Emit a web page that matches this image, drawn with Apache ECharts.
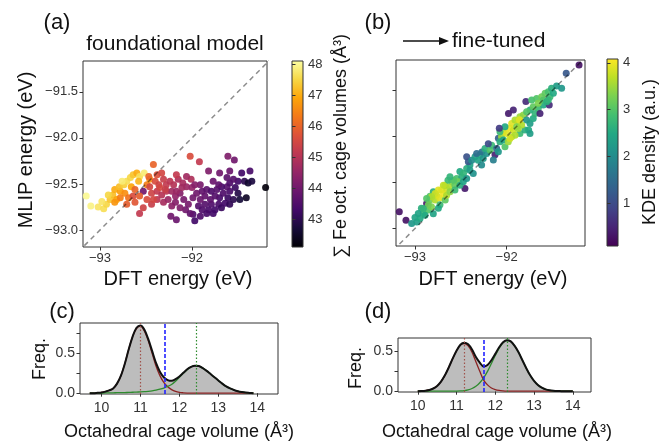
<!DOCTYPE html>
<html>
<head>
<meta charset="utf-8">
<script src="https://cdn.jsdelivr.net/npm/echarts@6/dist/echarts.min.js"></script>
<style>
  html, body { margin: 0; background: #fff; }
  #chart { width: 659px; height: 444px; }
</style>
</head>
<body>
<div id="chart"></div>
<script>
// (a) foundational model: DFT energy, MLIP energy (eV), summed Fe oct. cage volume
const aDft = [-93.15,-93.10,-93.02,-92.96,-92.93,-92.98,-92.89,-92.86,-92.91,-92.82,
  -92.84,-92.78,-92.79,-92.74,-92.71,-92.76,-92.67,-92.64,-92.60,-92.57,
  -92.52,-92.58,-92.66,-92.73,-92.78,-92.84,-92.69,-92.71,-92.64,-92.62,
  -92.53,-92.42,-92.49,-92.46,-92.46,-92.40,-92.36,-92.31,-92.28,-92.24,
  -92.20,-92.15,-92.10,-92.06,-92.01,-92.00,-92.44,-92.38,-92.33,-92.28,
  -92.22,-92.18,-92.13,-92.09,-92.49,-92.44,-92.38,-92.53,-92.57,-92.31,
  -92.26,-92.22,-92.18,-92.23,-92.17,-92.38,-92.33,-92.17,-92.06,-92.02,
  -91.92,-91.99,-91.97,-91.93,-91.89,-91.86,-91.82,-91.79,-91.75,-91.71,
  -91.68,-91.64,-91.61,-91.59,-91.55,-91.59,-91.62,-91.66,-91.70,-91.75,
  -91.80,-91.86,-91.91,-91.95,-91.89,-91.84,-91.79,-91.73,-91.68,-91.59,
  -91.53,-91.50,-91.50,-91.55,-91.62,-91.82,-91.70,-91.59,-91.61,-91.54,
  -91.46,-91.37,-91.43,-91.39,-91.48,-91.41,-91.35,-91.20,-91.71,-91.77,
  -91.91,-91.97,-91.99,-92.04,-92.07,-92.02,-92.13,-91.84,-91.77,-91.91,
  -92.35,-92.29,-92.47,-92.42,-92.57,-92.62,-92.17,-92.11]
const aMlip = [-92.63,-92.74,-92.75,-92.77,-92.72,-92.69,-92.67,-92.62,-92.62,-92.67,
  -92.56,-92.58,-92.53,-92.51,-92.47,-92.47,-92.43,-92.40,-92.38,-92.42,
  -92.38,-92.47,-92.53,-92.60,-92.65,-92.70,-92.65,-92.72,-92.63,-92.56,
  -92.58,-92.29,-92.51,-92.45,-92.53,-92.47,-92.51,-92.45,-92.51,-92.47,
  -92.51,-92.45,-92.49,-92.53,-92.45,-92.54,-92.60,-92.58,-92.62,-92.58,
  -92.58,-92.63,-92.60,-92.67,-92.67,-92.72,-92.67,-92.76,-92.82,-92.70,
  -92.67,-92.74,-92.70,-92.85,-92.89,-92.40,-92.38,-92.40,-92.42,-92.20,
  -92.26,-92.83,-92.90,-92.74,-92.78,-92.72,-92.78,-92.72,-92.78,-92.72,
  -92.76,-92.71,-92.65,-92.72,-92.67,-92.58,-92.53,-92.60,-92.65,-92.63,
  -92.67,-92.63,-92.67,-92.60,-92.58,-92.56,-92.58,-92.56,-92.53,-92.49,
  -92.54,-92.60,-92.47,-92.45,-92.43,-92.36,-92.38,-92.36,-92.20,-92.24,
  -92.38,-92.36,-92.47,-92.49,-92.67,-92.65,-92.47,-92.54,-92.51,-92.47,
  -92.51,-92.51,-92.65,-92.72,-92.78,-92.82,-92.76,-92.82,-92.82,-92.85,
  -92.54,-92.56,-92.42,-92.67,-92.63,-92.70,-92.58,-92.54]
const aVol = [48.0,47.9,47.7,47.6,47.5,47.7,47.3,47.2,47.5,46.9,
  47.0,46.8,47.2,47.4,47.6,47.8,47.5,47.3,47.0,47.6,
  47.8,47.1,46.9,46.6,46.4,46.7,46.2,45.9,45.6,46.0,
  44.0,46.0,46.4,46.6,45.5,45.6,45.4,45.3,45.2,45.1,
  45.0,44.9,44.8,44.6,44.9,44.5,45.4,45.2,45.0,45.1,
  44.7,44.5,44.3,44.1,45.6,45.3,45.1,45.4,45.2,44.8,
  44.6,44.4,44.3,44.0,43.9,45.7,45.5,45.2,44.7,45.6,
  45.2,43.5,43.3,43.6,43.5,43.6,43.4,43.5,43.3,43.4,
  43.2,43.3,43.2,43.1,43.0,43.4,43.6,43.5,43.4,43.6,
  43.7,43.8,43.9,44.0,43.8,43.7,43.5,43.6,43.4,43.5,
  43.2,42.9,43.3,43.6,43.7,44.2,44.0,43.9,44.2,44.0,
  43.3,43.4,43.0,42.6,42.7,42.5,42.8,42.2,43.7,43.9,
  44.1,44.3,44.0,44.1,44.0,43.8,44.2,43.4,43.3,43.5,
  45.5,45.3,46.0,45.5,45.9,45.8,44.6,44.7]

// (b) fine-tuned: DFT energy, MLIP energy (eV), KDE density
const bDft = [-93.171,-93.098,-93.036,-92.98,-93.0,-92.945,-92.909,-92.93,-92.873,-92.855,
  -92.82,-92.84,-92.78,-92.764,-92.73,-92.69,-92.71,-92.655,-92.67,-92.62,
  -92.60,-92.64,-92.80,-92.836,-92.727,-92.67,-92.89,-92.80,-92.745,-92.564,
  -92.545,-92.49,-92.455,-92.51,-92.47,-92.436,-92.40,-92.418,-92.436,-92.38,
  -92.345,-92.31,-92.29,-92.255,-92.327,-92.27,-92.218,-92.236,-92.18,-92.164,
  -92.2,-92.127,-92.109,-92.09,-92.055,-92.036,-92.0,-91.964,-91.927,-91.945,
  -91.909,-91.873,-91.855,-91.818,-92.073,-92.036,-91.98,-91.927,-91.782,-91.745,
  -91.71,-91.69,-91.655,-91.745,-91.79,-91.727,-91.673,-91.618,-91.58,-91.545,
  -91.527,-91.6,-91.636,-91.535,-91.51,-91.455,-91.4,-91.35,-91.21,-91.855,
  -91.8,-91.76,-91.745,-91.89,-91.836,-91.782,-91.71,-91.655,-91.6,-91.564,
  -91.545,-91.49,-92.4,-92.364,-92.527,-92.58,-92.618,-92.69,-92.745,-92.78,
  -92.818,-92.873,-92.855,-92.909,-92.964,-92.655,-92.618,-92.564,-92.51,-92.473,
  -92.436,-92.273,-92.145,-92.09,-92.018,-91.982,-91.945,-91.909,-91.964,-91.873,
  -92.073,-92.018,-92.08,-91.86]
const bMlip = [-92.819,-92.909,-92.946,-92.93,-92.88,-92.891,-92.837,-92.78,-92.728,-92.80,
  -92.765,-92.69,-92.69,-92.638,-92.67,-92.62,-92.58,-92.565,-92.53,-92.55,
  -92.49,-92.475,-92.60,-92.65,-92.743,-92.69,-92.855,-92.84,-92.78,-92.529,
  -92.457,-92.44,-92.565,-92.38,-92.40,-92.348,-92.31,-92.275,-92.22,-92.26,
  -92.22,-92.26,-92.20,-92.24,-92.185,-92.17,-92.185,-92.13,-92.15,-92.095,
  -92.08,-92.20,-92.13,-92.02,-92.004,-91.95,-91.967,-91.91,-91.93,-91.86,
  -91.822,-91.84,-91.786,-91.768,-92.058,-92.04,-91.75,-91.714,-91.822,-91.86,
  -91.804,-91.75,-91.696,-91.714,-91.62,-91.605,-91.587,-91.569,-91.532,-91.514,
  -91.569,-91.66,-91.75,-91.66,-91.478,-91.453,-91.478,-91.315,-91.225,-91.967,
  -91.93,-91.93,-91.967,-91.895,-91.877,-91.732,-91.678,-91.641,-91.605,-91.623,
  -91.605,-91.532,-92.366,-92.402,-92.493,-92.475,-92.438,-92.53,-92.583,-92.62,
  -92.656,-92.674,-92.746,-92.783,-92.837,-92.638,-92.60,-92.583,-92.529,-92.493,
  -92.457,-92.31,-92.257,-92.167,-92.112,-92.058,-92.004,-91.986,-92.022,-91.913,
  -91.95,-91.895,-91.91,-91.82]
const bKde = [0.3,0.3,2.2,2.3,2.4,2.5,2.8,2.6,0.4,3.0,
  3.3,3.2,3.6,3.8,3.9,4.0,3.9,3.8,3.5,3.6,
  3.4,2.8,2.6,3.0,2.8,3.1,2.5,2.4,2.5,3.1,
  2.9,2.6,0.4,2.5,2.7,2.6,2.4,1.2,1.1,2.0,
  2.3,2.4,2.5,2.2,1.5,1.6,2.1,2.6,3.0,2.8,
  1.0,0.5,1.5,1.3,3.5,3.8,3.9,4.0,3.8,3.9,
  3.6,3.7,3.5,3.4,2.6,2.4,0.4,0.5,2.2,2.3,
  2.5,2.7,2.8,2.6,0.6,2.9,3.0,3.2,3.1,2.9,
  2.8,2.5,0.5,0.6,2.6,2.3,2.2,1.2,0.3,2.8,
  2.6,2.5,2.3,3.3,3.6,3.0,3.1,3.3,3.0,2.6,
  2.7,2.5,2.3,2.1,3.2,3.0,2.7,3.7,3.9,3.8,
  3.6,3.0,3.2,2.7,2.4,3.6,3.4,2.8,2.6,2.4,
  2.2,2.0,1.8,2.2,3.0,3.5,3.7,3.6,3.8,3.5,
  2.8,2.5,0.8,3.9]

// (c) foundational model: octahedral cage volume distribution
const cVol = [9.7,9.8,9.9,10.0,10.1,10.2,10.3,10.4,10.5,10.6,10.7,10.8,10.9,11.0,11.1,
  11.2,11.3,11.4,11.5,11.6,11.7,11.8,11.9,12.0,12.1,12.2,12.3,12.4,12.5,12.6,
  12.7,12.8,12.9,13.0,13.1,13.2,13.3,13.4,13.5,13.6,13.7,13.8,13.9]
const cTotal = [0,0,0.005,0.01,0.02,0.035,0.06,0.12,0.22,0.37,0.55,0.71,0.82,0.85,0.80,
  0.68,0.53,0.38,0.27,0.20,0.165,0.155,0.175,0.21,0.255,0.30,0.33,0.345,0.34,0.315,
  0.28,0.24,0.20,0.16,0.12,0.085,0.06,0.04,0.025,0.015,0.008,0.004,0]
const cLow = [0,0,0.005,0.01,0.02,0.035,0.06,0.12,0.22,0.37,0.55,0.71,0.81,0.84,0.78,
  0.66,0.50,0.34,0.22,0.135,0.08,0.045,0.022,0.01,0.005,0.002,0,0,0,0,
  0,0,0,0,0,0,0,0,0,0,0,0,0]
const cHigh = [0,0,0.001,0.002,0.003,0.004,0.005,0.006,0.007,0.008,0.01,0.012,0.014,0.016,0.019,
  0.024,0.03,0.038,0.05,0.065,0.085,0.11,0.15,0.20,0.25,0.295,0.33,0.345,0.34,0.315,
  0.28,0.24,0.20,0.16,0.12,0.085,0.06,0.04,0.025,0.015,0.008,0.004,0]
const cMarks = [11.0, 11.63, 12.42]   // low mean, threshold, high mean

// (d) fine-tuned: octahedral cage volume distribution
const dVol = [10.0,10.1,10.2,10.3,10.4,10.5,10.6,10.7,10.8,10.9,11.0,11.1,11.2,11.3,11.4,
  11.5,11.6,11.7,11.8,11.9,12.0,12.1,12.2,12.3,12.4,12.5,12.6,12.7,12.8,12.9,
  13.0,13.1,13.2,13.3,13.4,13.5,13.6,13.7,13.8,13.9,14.0]
const dTotal = [0.001,0.003,0.007,0.016,0.034,0.067,0.121,0.20,0.30,0.41,0.51,0.585,0.61,0.59,0.525,
  0.43,0.36,0.31,0.33,0.39,0.47,0.553,0.616,0.642,0.627,0.57,0.49,0.39,0.29,0.20,
  0.13,0.078,0.044,0.023,0.011,0.005,0.002,0.001,0,0,0]
const dLow = [0.001,0.003,0.007,0.016,0.034,0.067,0.121,0.20,0.30,0.41,0.51,0.58,0.60,0.57,0.49,
  0.37,0.25,0.14,0.08,0.04,0.02,0.01,0.005,0.002,0.001,0,0,0,0,0,
  0,0,0,0,0,0,0,0,0,0,0]
const dHigh = [0,0,0,0,0,0,0,0,0,0.001,0.002,0.004,0.008,0.017,0.034,
  0.062,0.107,0.169,0.25,0.35,0.45,0.54,0.61,0.64,0.626,0.57,0.49,0.39,0.29,0.20,
  0.13,0.078,0.044,0.023,0.011,0.005,0.002,0.001,0,0,0]
const dMarks = [11.19, 11.70, 12.32]

// tick positions
const energyTicksX = [-93, -92]
const energyTicksY = [-93, -92.5, -92, -91.5]
const volTicks = [43, 44, 45, 46, 47, 48]
const kdeTicks = [1, 2, 3, 4]
const cageTicks = [10, 11, 12, 13, 14]
const freqTicks = [0, 0.25, 0.5, 0.75]
const freqLabels = [0, 0.5]

const inferno = ['#000004','#160b39','#420a68','#6a176e','#932667','#bc3754','#dd513a','#f37819','#fca50a','#f6d746','#fcffa4']
const viridis = ['#440154','#482475','#414487','#355f8d','#2a788e','#21918c','#22a884','#44bf70','#7ad151','#bddf26','#fde725']

const FONT = 'Liberation Sans, Arial, sans-serif'
const aRange = { x: [-93.185, -91.185], y: [-93.185, -91.165] }
const bRange = { x: [-93.207, -91.145], y: [-93.19, -91.17] }
const volRange = [42.1, 48.1]
const kdeRange = [0.1, 4.08]

const minus = (d) => (v) => (v < 0 ? '\u2212' : '') + Math.abs(v).toFixed(d)

function gradient(colors) {
  return new echarts.graphic.LinearGradient(0, 1, 0, 0,
    colors.map((c, i) => ({ offset: i / (colors.length - 1), color: c })))
}

function axis(gridIndex, range, ticks, labels, fmt, extra, size, margin) {
  return Object.assign({
    gridIndex, type: 'value', min: range[0], max: range[1],
    axisLine: { show: false },
    splitLine: { show: false },
    axisTick: { length: 3.5, lineStyle: { color: '#333' }, customValues: ticks },
    axisLabel: labels
      ? { customValues: labels, formatter: fmt, color: '#333', fontSize: size || 13, fontFamily: FONT, margin: margin || 5 }
      : { show: false }
  }, extra || {})
}

function frame(left, top, width, height, bg) {
  return { left, top, width, height, show: true, borderColor: '#333', borderWidth: 1, backgroundColor: bg || 'transparent' }
}

function curves(axisIdx, xs, total, low, high, marks) {
  const pts = (ys) => xs.map((x, i) => [x, ys[i]])
  const base = { type: 'line', xAxisIndex: axisIdx, yAxisIndex: axisIdx, showSymbol: false, smooth: 0.3, silent: true }
  return [
    Object.assign({}, base, { data: pts(total), lineStyle: { width: 0 }, areaStyle: { color: '#bdbdbd', opacity: 1 } }),
    Object.assign({}, base, { data: pts(low), lineStyle: { color: '#8b2323', width: 1.3 } }),
    Object.assign({}, base, { data: pts(high), lineStyle: { color: '#2e8b2e', width: 1.3 } }),
    Object.assign({}, base, {
      data: pts(total), lineStyle: { color: '#111', width: 2 },
      markLine: {
        silent: true, symbol: 'none', label: { show: false },
        data: [
          { xAxis: marks[0], lineStyle: { color: '#a0524b', type: [1.5, 2], width: 1.2 } },
          { xAxis: marks[1], lineStyle: { color: '#2424ff', type: [4, 2], width: 1.6 } },
          { xAxis: marks[2], lineStyle: { color: '#2e8b2e', type: [1.5, 2], width: 1.2 } }
        ]
      }
    })
  ]
}

function diag(axisIdx) {
  return {
    type: 'line', xAxisIndex: axisIdx, yAxisIndex: axisIdx, showSymbol: false, silent: true, z: 5,
    data: [[-94, -94], [-90, -90]], clip: true,
    lineStyle: { color: '#000', opacity: 0.45, width: 1.5, type: [5, 4] }
  }
}

function label(text, x, y, size, rotate) {
  return {
    type: 'text', x, y, rotation: rotate ? Math.PI / 2 : 0,
    style: { text, fill: '#111', fontSize: size, fontFamily: FONT, align: 'center', verticalAlign: 'middle' }
  }
}

const chart = echarts.init(document.getElementById('chart'))
chart.setOption({
  animation: false,
  grid: [
    frame(83, 61, 184, 186),
    frame(396, 60, 189, 186),
    frame(292, 61, 11, 186, gradient(inferno)),
    frame(607, 59, 11, 187, gradient(viridis)),
    frame(80, 323, 198, 71),
    frame(398, 338, 193, 54)
  ],
  xAxis: [
    axis(0, aRange.x, energyTicksX, energyTicksX, minus(0)),
    axis(1, bRange.x, energyTicksX, energyTicksX, minus(0)),
    { gridIndex: 2, type: 'value', min: 0, max: 1, show: false },
    { gridIndex: 3, type: 'value', min: 0, max: 1, show: false },
    axis(4, [9.45, 14.53], cageTicks, cageTicks, minus(0), null, 14, 7),
    axis(5, [9.49, 14.47], cageTicks, cageTicks, minus(0), null, 14, 7)
  ],
  yAxis: [
    axis(0, aRange.y, energyTicksY, energyTicksY, minus(1)),
    axis(1, bRange.y, energyTicksY, null),
    axis(2, volRange, volTicks, volTicks, minus(0), { position: 'right' }),
    axis(3, kdeRange, kdeTicks, kdeTicks, minus(0), { position: 'right' }),
    axis(4, [-0.01, 0.88], freqTicks, freqLabels, minus(1), null, 14, 5),
    axis(5, [-0.01, 0.67], [0, 0.25, 0.5], freqLabels, minus(1), null, 14, 5)
  ],
  visualMap: [
    { type: 'continuous', show: false, seriesIndex: 0, dimension: 2, min: volRange[0], max: volRange[1], inRange: { color: inferno } },
    { type: 'continuous', show: false, seriesIndex: 2, dimension: 2, min: kdeRange[0], max: kdeRange[1], inRange: { color: viridis } }
  ],
  series: [
    { type: 'scatter', xAxisIndex: 0, yAxisIndex: 0, symbolSize: 7, itemStyle: { opacity: 0.92 },
      data: aDft.map((x, i) => [x, aMlip[i], aVol[i]]) },
    diag(0),
    { type: 'scatter', xAxisIndex: 1, yAxisIndex: 1, symbolSize: 7, itemStyle: { opacity: 0.92 },
      data: bDft.map((x, i) => [x, bMlip[i], bKde[i]]) },
    diag(1),
    ...curves(4, cVol, cTotal, cLow, cHigh, cMarks),
    ...curves(5, dVol, dTotal, dLow, dHigh, dMarks)
  ],
  graphic: [
    label('(a)', 57, 23, 22),
    label('foundational model', 175, 44, 21),
    label('(b)', 378, 23, 22),
    { type: 'line', shape: { x1: 403, y1: 41, x2: 441, y2: 41 }, style: { stroke: '#111', lineWidth: 1.6 } },
    { type: 'polygon', shape: { points: [[449, 41], [439, 37], [439, 45]] }, style: { fill: '#111' } },
    { type: 'text', x: 452, y: 41, style: { text: 'fine-tuned', fill: '#111', fontSize: 21, fontFamily: FONT, align: 'left', verticalAlign: 'middle' } },
    label('DFT energy (eV)', 178, 279, 20),
    label('DFT energy (eV)', 493, 279, 20),
    label('MLIP energy (eV)', 26, 150, 20, true),
    label('\u2211 Fe oct. cage volumes (\u00c5\u00b3)', 341, 146, 18, true),
    label('KDE density (a.u.)', 650, 152, 18, true),
    label('(c)', 62, 312, 22),
    label('(d)', 378, 312, 22),
    label('Freq.', 40, 359, 18, true),
    label('Freq.', 356, 368, 18, true),
    label('Octahedral cage volume (\u00c5\u00b3)', 179, 432, 18),
    label('Octahedral cage volume (\u00c5\u00b3)', 497, 432, 18)
  ]
})
</script>
</body>
</html>
